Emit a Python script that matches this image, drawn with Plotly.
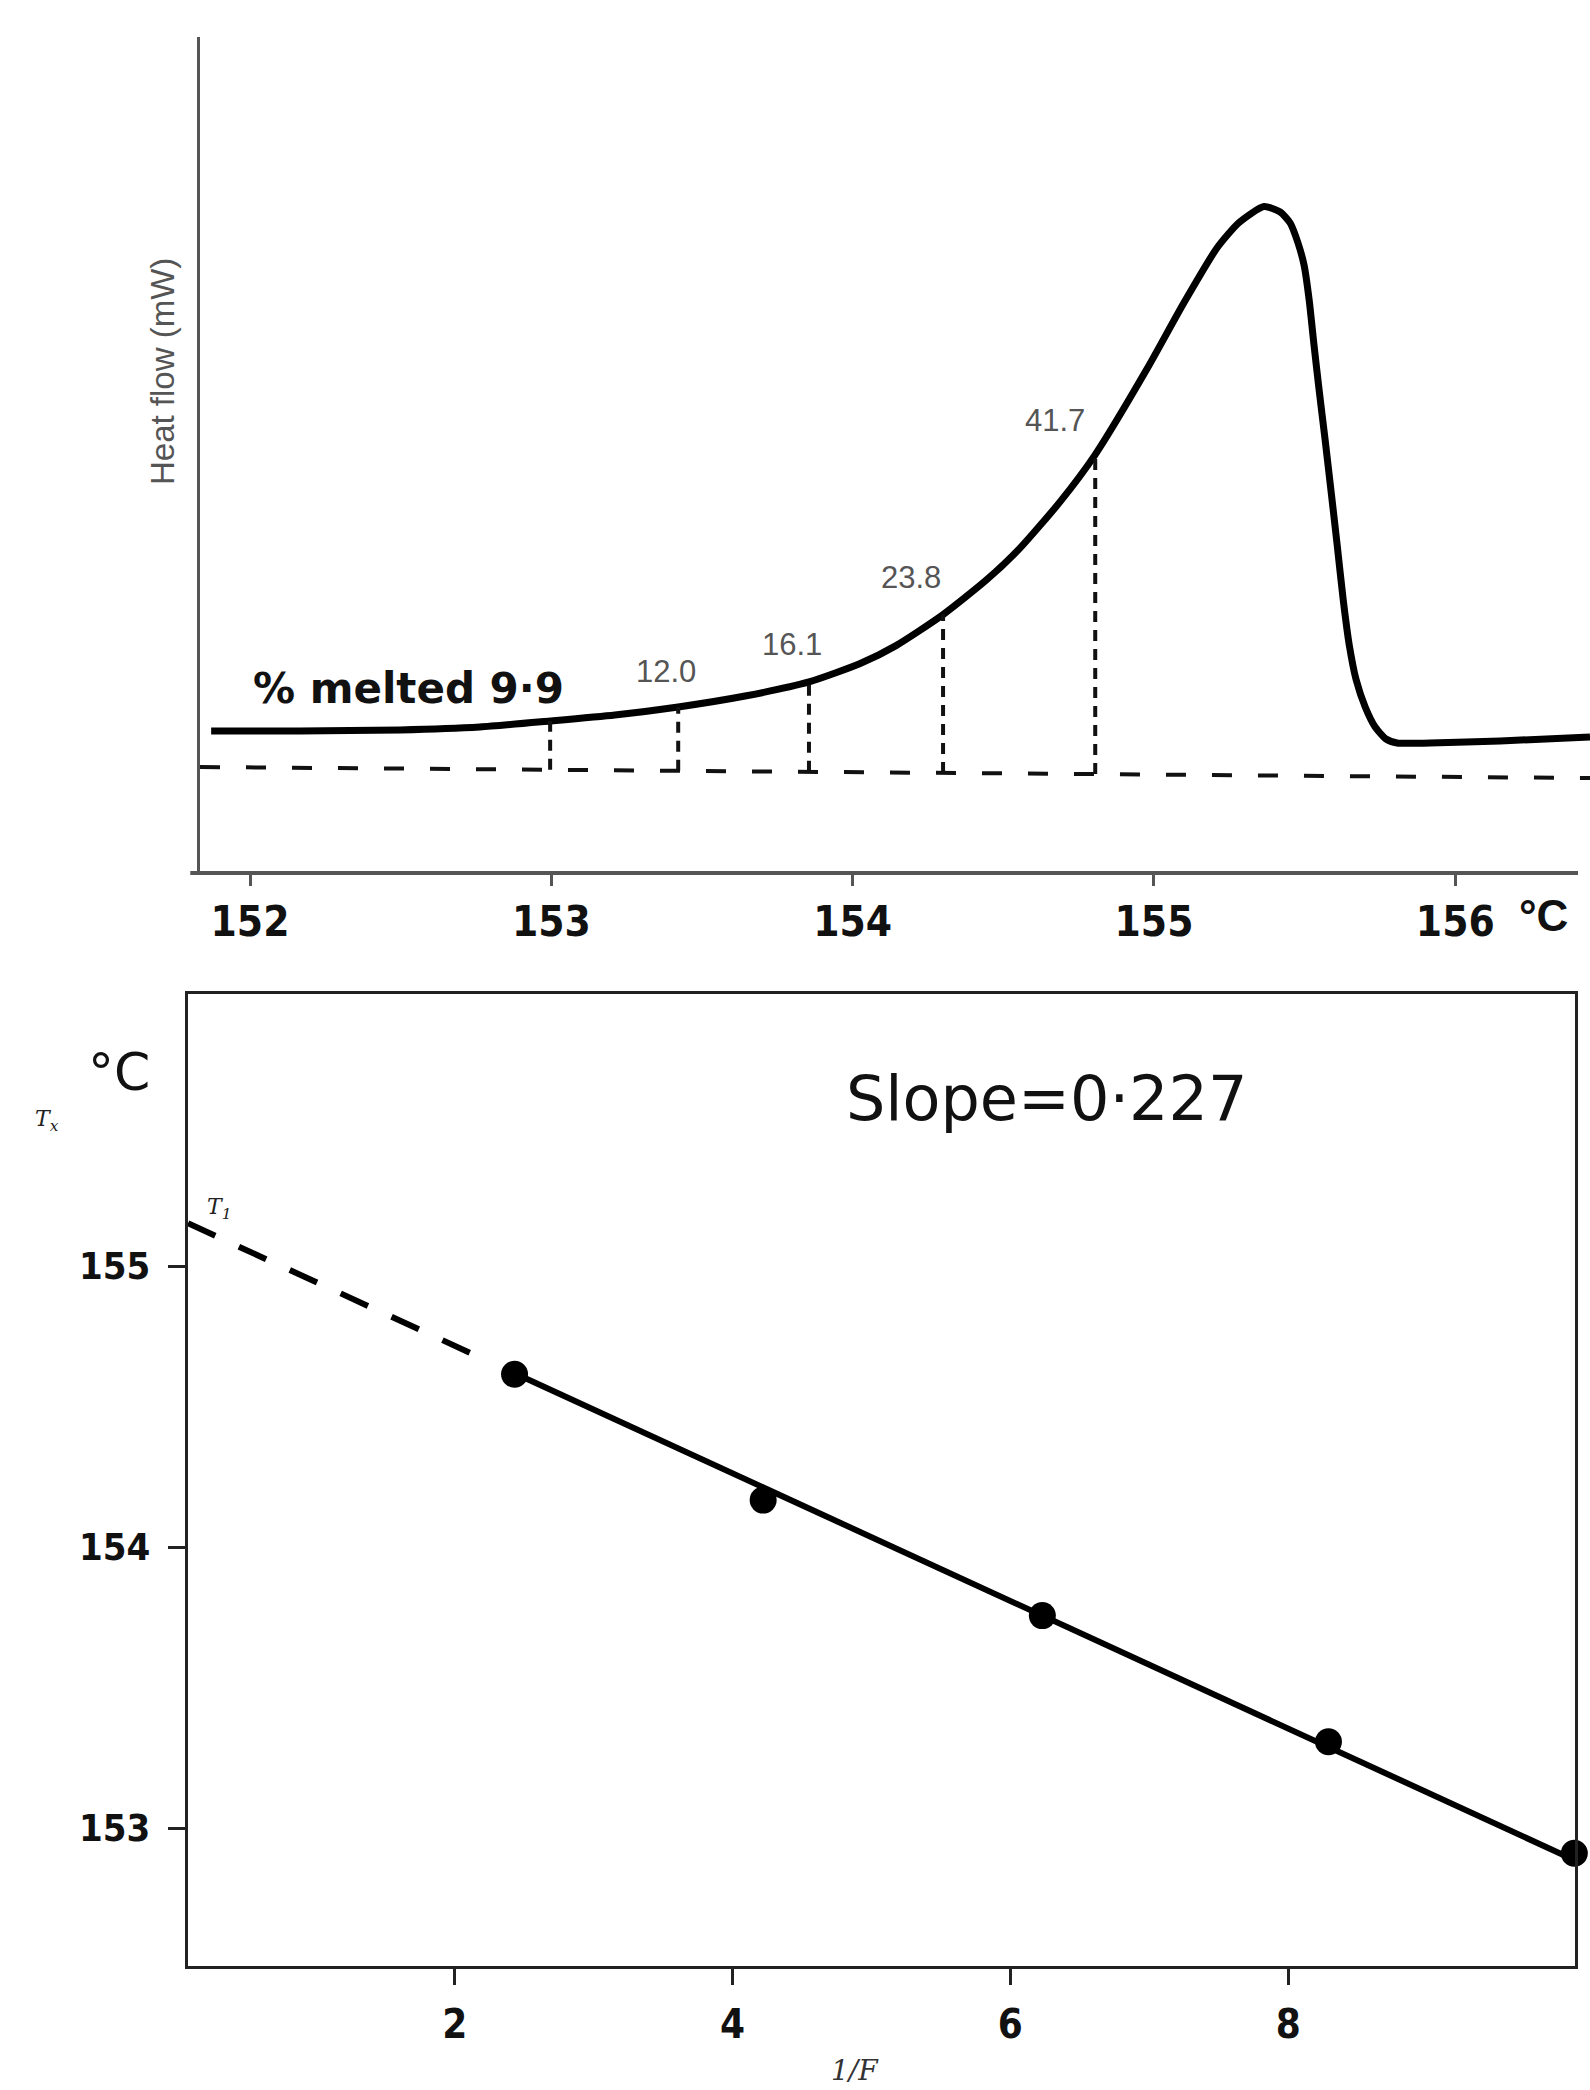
import numpy as np
import plotly.graph_objects as go

W, H = 1590, 2090

# ---------------- Top chart: DSC melting endotherm ----------------
temp_c = [151.871, 152.166, 152.498, 152.763, 152.996, 153.211, 153.421, 153.643,
          153.855, 154.025, 154.144, 154.300, 154.443, 154.556, 154.688, 154.805,
          154.977, 155.097, 155.209, 155.282, 155.365, 155.419, 155.452, 155.478,
          155.498, 155.515, 155.531, 155.548, 155.568, 155.588, 155.608, 155.628,
          155.648, 155.671, 155.701, 155.734, 155.770, 155.807, 155.916, 156.149,
          156.447]
heat_flow = [1.699, 1.699, 1.711, 1.746, 1.818, 1.890, 1.986, 2.117,
             2.285, 2.505, 2.720, 3.091, 3.502, 3.889, 4.439, 5.005,
             6.031, 6.806, 7.476, 7.779, 7.972, 7.907, 7.775, 7.536,
             7.273, 6.854, 6.316, 5.778, 5.179, 4.557, 3.923, 3.266,
             2.727, 2.309, 1.986, 1.746, 1.603, 1.555, 1.555, 1.579,
             1.627]
baseline_temp = [151.834, 156.447]
baseline_hf = [1.268, 1.136]
melt_temp = [152.996, 153.421, 153.855, 154.300, 154.805]
melt_labels = ["% melted 9·9", "12.0", "16.1", "23.8", "41.7"]
top_tick_vals = [152, 153, 154, 155, 156]
top_tick_text = ["152", "153", "154", "155", "156"]

# ---------------- Bottom chart: Tx vs 1/F ----------------
inv_f = [2.43, 4.22, 6.23, 8.29, 10.06]
t_x = [154.615, 154.167, 153.756, 153.307, 152.91]
fit_slope = -0.227
fit_t1 = 155.17
bot_x_ticks = [2, 4, 6, 8]
bot_y_ticks = [153, 154, 155]

# ranges
top_xrange = [151.834, 156.447]
top_yrange = [0, 10]
bot_xrange = [0.079, 10.065]
bot_yrange = [152.509, 155.968]

fig = go.Figure()

# DSC curve
fig.add_trace(go.Scatter(x=temp_c, y=heat_flow, mode="lines",
                         line=dict(color="black", width=7, shape="spline", smoothing=0.6),
                         xaxis="x", yaxis="y", hoverinfo="skip"))
# dashed baseline
fig.add_trace(go.Scatter(x=baseline_temp, y=baseline_hf, mode="lines",
                         line=dict(color="#111", width=4, dash="20px,26px"),
                         xaxis="x", yaxis="y", hoverinfo="skip"))
# vertical dashed drop lines
curve_at = np.interp(melt_temp, temp_c, heat_flow)
base_at = np.interp(melt_temp, baseline_temp, baseline_hf)
vx, vy = [], []
for t, c, b in zip(melt_temp, curve_at, base_at):
    vx += [t, t, None]
    vy += [b, c, None]
fig.add_trace(go.Scatter(x=vx, y=vy, mode="lines",
                         line=dict(color="#111", width=4, dash="11px,8px"),
                         xaxis="x", yaxis="y", hoverinfo="skip"))

# fit line (solid over data, dashed extrapolation to T1)
xs_solid = np.array([inv_f[0], inv_f[-1]])
fig.add_trace(go.Scatter(x=xs_solid, y=fit_t1 + fit_slope * xs_solid, mode="lines",
                         line=dict(color="black", width=6),
                         xaxis="x2", yaxis="y2", hoverinfo="skip"))
xs_dash = np.array([bot_xrange[0], inv_f[0] - 0.25])
fig.add_trace(go.Scatter(x=xs_dash, y=fit_t1 + fit_slope * xs_dash, mode="lines",
                         line=dict(color="black", width=6, dash="30px,26px"),
                         xaxis="x2", yaxis="y2", hoverinfo="skip"))
fig.add_trace(go.Scatter(x=inv_f, y=t_x, mode="markers",
                         marker=dict(color="black", size=27),
                         cliponaxis=False,
                         xaxis="x2", yaxis="y2", hoverinfo="skip"))

narrow = "Liberation Sans Narrow, DejaVu Sans Condensed, Liberation Sans"
tick_font_top = dict(family=narrow, size=42, color="#111", weight="bold")
tick_font_bot = dict(family=narrow, size=40, color="#111", weight="bold")


def px_x(p):
    return p / W


def px_y(p):
    return 1 - p / H


fig.update_layout(
    width=W, height=H, template="none",
    margin=dict(l=0, r=0, t=0, b=0),
    paper_bgcolor="white", plot_bgcolor="white",
    showlegend=False,
    xaxis=dict(domain=[px_x(200), 1.0], range=top_xrange, anchor="y",
               tickvals=top_tick_vals, ticktext=top_tick_text, tickfont=tick_font_top,
               ticks="outside", ticklen=12, tickwidth=3, tickcolor="#555",
               showline=False, showgrid=False, zeroline=False, automargin=False,
               ticklabelstandoff=0),
    yaxis=dict(domain=[px_y(873), px_y(37)], range=top_yrange, anchor="x",
               showline=True, linecolor="#555", linewidth=3,
               showticklabels=False, ticks="", showgrid=False, zeroline=False,
               automargin=False),
    xaxis2=dict(domain=[px_x(188), px_x(1575)], range=bot_xrange, anchor="y2",
                tickvals=bot_x_ticks, tickfont=tick_font_bot,
                ticks="outside", ticklen=16, tickwidth=3, tickcolor="#222",
                showline=True, mirror=True, linecolor="#222", linewidth=3,
                showgrid=False, zeroline=False, automargin=False,
                ticklabelstandoff=5),
    yaxis2=dict(domain=[px_y(1966), px_y(994)], range=bot_yrange, anchor="x2",
                tickvals=bot_y_ticks, tickfont=dict(tick_font_bot, size=38),
                ticks="outside", ticklen=17, tickwidth=3, tickcolor="#222",
                showline=True, mirror=True, linecolor="#222", linewidth=3,
                showgrid=False, zeroline=False, automargin=False,
                ticklabelstandoff=10),
)

# top x-axis line (stops short of the right edge as in the original)
fig.add_shape(type="line", xref="x domain", yref="y domain",
              x0=-0.007, x1=(1578 - 200) / (W - 200), y0=0, y1=0,
              line=dict(color="#555", width=4))

annotations = []
# percent-melted labels, offset from each drop line top
label_offsets = [(16, 33, "right"), (-12, 35, "center"), (-17, 37, "center"),
                 (-32, 37, "center"), (-40, 34, "center")]
for i, (t, c, lab) in enumerate(zip(melt_temp, curve_at, melt_labels)):
    dx, dy, anc = label_offsets[i]
    if i == 0:
        font = dict(family="DejaVu Sans", size=42, color="#111", weight="bold")
    else:
        font = dict(family="Liberation Sans, Arial", size=31, color="#555")
    annotations.append(dict(x=t, y=c, xref="x", yref="y", text=lab, showarrow=False,
                            xanchor=anc, yanchor="middle", xshift=dx, yshift=dy, font=font))

annotations += [
    dict(x=px_x(1543), y=px_y(915), xref="paper", yref="paper", text="°C",
         showarrow=False, xanchor="center", yanchor="middle",
         font=dict(family="Liberation Sans", size=44, color="#111", weight="bold")),
    dict(x=px_x(162), y=px_y(372), xref="paper", yref="paper", text="Heat flow (mW)",
         showarrow=False, textangle=-90, xanchor="center", yanchor="middle",
         font=dict(family="Liberation Sans", size=33, color="#555")),
    dict(x=px_x(119), y=px_y(1072), xref="paper", yref="paper", text="°C",
         showarrow=False, xanchor="center", yanchor="middle",
         font=dict(family="DejaVu Sans", size=52, color="#111")),
    dict(x=px_x(47), y=px_y(1120), xref="paper", yref="paper", text="<i>T<sub>x</sub></i>",
         showarrow=False, xanchor="center", yanchor="middle",
         font=dict(family="DejaVu Serif", size=22, color="#222")),
    dict(x=px_x(219), y=px_y(1208), xref="paper", yref="paper", text="<i>T<sub>1</sub></i>",
         showarrow=False, xanchor="center", yanchor="middle",
         font=dict(family="DejaVu Serif", size=22, color="#222")),
    dict(x=px_x(1046), y=px_y(1098), xref="paper", yref="paper", text="Slope=0·227",
         showarrow=False, xanchor="center", yanchor="middle",
         font=dict(family="DejaVu Sans", size=62, color="#111")),
    dict(x=px_x(855), y=px_y(2052), xref="paper", yref="paper", text="<i>1/F</i>",
         showarrow=False, xanchor="center", yanchor="top",
         font=dict(family="DejaVu Serif", size=28, color="#333")),
]
fig.update_layout(annotations=annotations)

fig.write_html("out.html")
